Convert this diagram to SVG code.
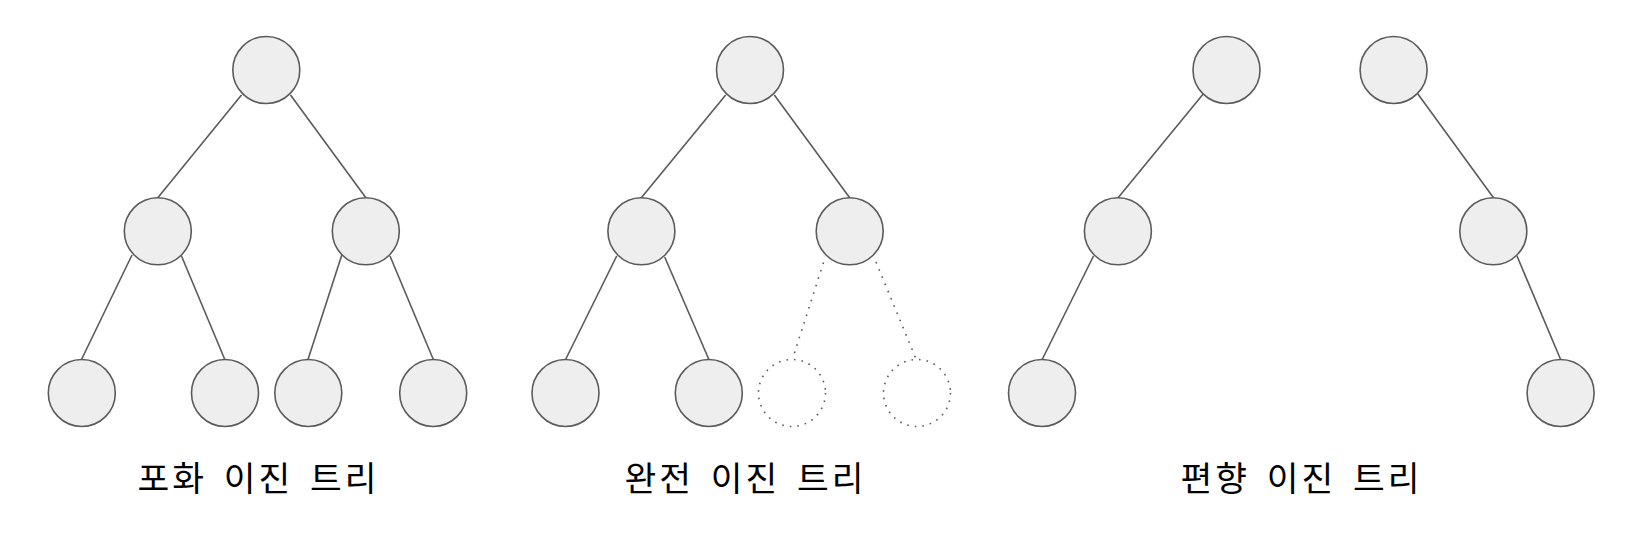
<svg xmlns="http://www.w3.org/2000/svg" width="1644" height="537" viewBox="0 0 1644 537">
<style>
.n{fill:#eeeeee;stroke:#5a5a5a;stroke-width:1.6}
.d{fill:none;stroke:#5a5a5a;stroke-width:1.6;stroke-dasharray:1.6 6}
.e{stroke:#5a5a5a;stroke-width:1.6;fill:none}
.ed{stroke:#5a5a5a;stroke-width:1.6;fill:none;stroke-dasharray:1.6 6.2}
.t{font-family:"Malgun Gothic","Noto Sans CJK KR",sans-serif;font-size:34.5px;letter-spacing:3px;word-spacing:6px;fill:#000;text-anchor:middle}
</style>
<rect width="1644" height="537" fill="#ffffff"/>
<g id="connectors">
<line class="e" x1="241.5" y1="95" x2="158" y2="197.5"/>
<line class="e" x1="290.5" y1="95" x2="365.7" y2="197.5"/>
<line class="e" x1="132" y1="255" x2="81.5" y2="359.5"/>
<line class="e" x1="181.5" y1="256" x2="224.8" y2="359.5"/>
<line class="e" x1="341.8" y1="255" x2="308" y2="359.5"/>
<line class="e" x1="390" y1="256" x2="433.3" y2="359.5"/>
<line class="e" x1="725.7" y1="95" x2="641.5" y2="197.5"/>
<line class="e" x1="774.3" y1="95" x2="849.5" y2="197.5"/>
<line class="e" x1="616.7" y1="256" x2="565.6" y2="359.5"/>
<line class="e" x1="664.7" y1="257" x2="708.9" y2="359.5"/>
<line class="ed" x1="823.5" y1="262.5" x2="792.5" y2="359"/>
<line class="ed" x1="876" y1="262" x2="916" y2="359"/>
<line class="e" x1="1203.2" y1="94" x2="1118.3" y2="197.5"/>
<line class="e" x1="1417.9" y1="94" x2="1493.3" y2="197.5"/>
<line class="e" x1="1093.5" y1="256" x2="1042.2" y2="359.5"/>
<line class="e" x1="1517" y1="256" x2="1560.6" y2="359.5"/>
</g>
<g id="full-root"><circle class="n" cx="266.3" cy="70" r="33.5"/></g>
<g id="full-l"><circle class="n" cx="157.8" cy="231.3" r="33.5"/></g>
<g id="full-r"><circle class="n" cx="365.8" cy="231.3" r="33.5"/></g>
<g id="full-ll"><circle class="n" cx="81.8" cy="393" r="33.5"/></g>
<g id="full-lr"><circle class="n" cx="225" cy="393" r="33.5"/></g>
<g id="full-rl"><circle class="n" cx="308.3" cy="393" r="33.5"/></g>
<g id="full-rr"><circle class="n" cx="433.2" cy="393" r="33.5"/></g>
<g id="full-label"><text class="t" x="258.5" y="491">포화 이진 트리</text></g>
<g id="comp-root"><circle class="n" cx="750" cy="70" r="33.5"/></g>
<g id="comp-l"><circle class="n" cx="641.4" cy="231.3" r="33.5"/></g>
<g id="comp-r"><circle class="n" cx="849.7" cy="231.3" r="33.5"/></g>
<g id="comp-ll"><circle class="n" cx="565.5" cy="393" r="33.5"/></g>
<g id="comp-lr"><circle class="n" cx="708.8" cy="393" r="33.5"/></g>
<g id="comp-rl"><circle class="d" cx="792" cy="393" r="33.5"/></g>
<g id="comp-rr"><circle class="d" cx="917" cy="393" r="33.5"/></g>
<g id="comp-label"><text class="t" x="745.5" y="491">완전 이진 트리</text></g>
<g id="skewL-root"><circle class="n" cx="1226.5" cy="70" r="33.5"/></g>
<g id="skewL-l"><circle class="n" cx="1117.9" cy="231.3" r="33.5"/></g>
<g id="skewL-ll"><circle class="n" cx="1042" cy="393" r="33.5"/></g>
<g id="skewR-root"><circle class="n" cx="1393.6" cy="70" r="33.5"/></g>
<g id="skewR-r"><circle class="n" cx="1493.3" cy="231.3" r="33.5"/></g>
<g id="skewR-rr"><circle class="n" cx="1560.6" cy="393" r="33.5"/></g>
<g id="skew-label"><text class="t" x="1301.5" y="491">편향 이진 트리</text></g>
</svg>
